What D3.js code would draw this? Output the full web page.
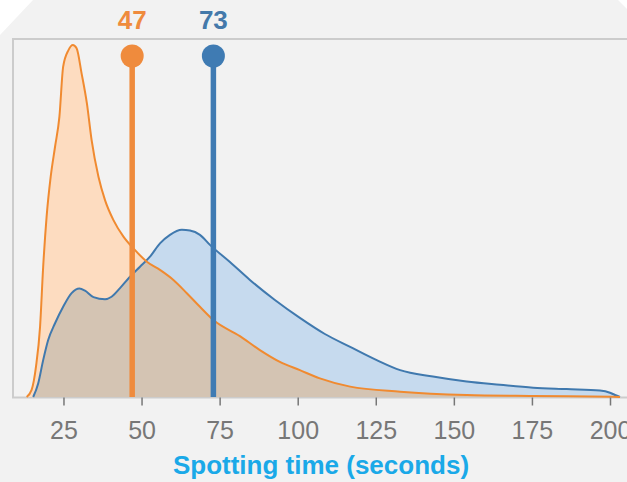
<!DOCTYPE html>
<html>
<head>
<meta charset="utf-8">
<script src="https://cdn.jsdelivr.net/npm/d3@7/dist/d3.min.js"></script>
<style>
  html, body { margin: 0; padding: 0; background: #ffffff; }
  svg { display: block; font-family: "Liberation Sans", Arial, sans-serif; }
</style>
</head>
<body>
<svg id="chart" width="627" height="482"></svg>
<script>
// ---- data ----
const xTicks = [25, 50, 75, 100, 125, 150, 175, 200];
const axisTitle = "Spotting time (seconds)";

const orangeTimes = [13.2, 14.8, 16.2, 17.5, 18.5, 19.6, 20.9, 22.3, 23.7, 24.9, 26.6, 28.0, 29.2, 30.8, 32.5, 34.0, 36.2, 38.3, 41.0, 44.2, 47.4, 51.7, 55.9, 60.2, 64.5, 68.7, 73.0, 81.5, 87.9, 94.3, 100.7, 107.1, 116.8, 132.8, 154.1, 175.4, 201.0, 203.2];
const orangeDensity = [0, 2.0, 8.5, 19.6, 36.4, 50.4, 61.5, 69.9, 78.3, 92.3, 96.9, 98.3, 97.4, 90.4, 82.0, 71.8, 61.5, 55.0, 49.4, 44.8, 41.5, 37.8, 35.5, 32.7, 29.0, 25.2, 21.5, 17.0, 13.1, 9.8, 7.5, 5.2, 2.9, 1.5, 0.56, 0.28, 0.08, 0];

const blueTimes = [15.3, 16.9, 18.5, 20.1, 22.3, 24.9, 27.6, 30.1, 31.9, 34.6, 38.3, 40.4, 43.1, 46.3, 49.5, 52.7, 55.9, 59.1, 62.9, 65.5, 68.7, 71.9, 78.3, 84.7, 92.7, 100.7, 108.7, 116.8, 125.3, 132.8, 143.3, 154.1, 164.8, 175.4, 186.1, 196.8, 200.0, 201.6, 203.2];
const blueDensity = [0, 3.8, 10.3, 15.9, 20.6, 25.2, 29.0, 30.3, 29.7, 27.9, 27.3, 28.0, 30.4, 33.6, 36.4, 39.2, 42.9, 45.3, 46.7, 46.5, 45.3, 42.5, 37.7, 32.7, 27.1, 22.1, 17.6, 14.0, 10.3, 7.5, 5.7, 4.3, 3.4, 2.6, 2.2, 1.8, 1.2, 0.56, 0];

const meanNames = ["orange", "blue"];
const meanValues = [47, 73];
const meanLabels = ["47", "73"];

// ---- styles ----
const C = {
  orangeStroke: "#f08a30", orangeFill: "#fddcc0",
  blueStroke: "#4079ae", blueFill: "#c6daee",
  overlap: "#d4c4b3",
  orangeMean: "#ef8b3d", blueMean: "#3f7bb3",
  orangeText: "#ef8b3d", blueText: "#4479aa"
};

const svg = d3.select("#chart");

// background panel with bevelled corners
svg.append("polygon")
  .attr("points", "0,35 33,0 618,0 650,32 650,482 0,482")
  .attr("fill", "#f2f2f2");

const plot = { left: 13, top: 39, right: 660, bottom: 397.5 };

const x = d3.scaleLinear().domain([0, 200]).range([-14.6, 610]);
const y = d3.scaleLinear().domain([0, 100]).range([397, 39]);

// plot frame
svg.append("rect")
  .attr("x", plot.left).attr("y", plot.top)
  .attr("width", plot.right - plot.left).attr("height", plot.bottom - plot.top)
  .attr("fill", "#f2f2f2").attr("stroke", "#cccccc").attr("stroke-width", 2);

const orange = orangeTimes.map((t, i) => ({ t, d: orangeDensity[i] }));
const blue = blueTimes.map((t, i) => ({ t, d: blueDensity[i] }));

const area = d3.area().x(p => x(p.t)).y0(y(0)).y1(p => y(p.d)).curve(d3.curveMonotoneX);
const line = d3.line().x(p => x(p.t)).y(p => y(p.d)).curve(d3.curveMonotoneX);

const defs = svg.append("defs");
defs.append("clipPath").attr("id", "blueClip")
  .append("path").attr("d", area(blue));

svg.append("path").attr("d", area(blue)).attr("fill", C.blueFill);
svg.append("path").attr("d", area(orange)).attr("fill", C.orangeFill);
svg.append("path").attr("d", area(orange)).attr("fill", C.overlap).attr("clip-path", "url(#blueClip)");

svg.append("path").attr("d", line(blue)).attr("fill", "none")
  .attr("stroke", C.blueStroke).attr("stroke-width", 2);
svg.append("path").attr("d", line(orange)).attr("fill", "none")
  .attr("stroke", C.orangeStroke).attr("stroke-width", 2);

// axis
const axis = d3.axisBottom(x).tickValues(xTicks).tickSize(8).tickPadding(16).tickFormat(d3.format("d"));
const gAxis = svg.append("g").attr("transform", `translate(0,${plot.bottom})`).call(axis);
gAxis.select(".domain").remove();
gAxis.selectAll(".tick line").attr("stroke", "#777").attr("stroke-width", 1.5);
gAxis.selectAll(".tick text").attr("fill", "#777").attr("font-size", 25)
  .attr("font-family", "Liberation Sans, Arial, sans-serif");

svg.append("text")
  .attr("x", 321).attr("y", 474)
  .attr("text-anchor", "middle")
  .attr("font-size", 26).attr("font-weight", "bold")
  .attr("fill", "#1aa9e8")
  .text(axisTitle);

// mean markers
const meanColor = [C.orangeMean, C.blueMean];
const meanText = [C.orangeText, C.blueText];
const gm = svg.append("g");
meanValues.forEach((v, i) => {
  gm.append("line")
    .attr("x1", x(v)).attr("x2", x(v))
    .attr("y1", 56).attr("y2", y(0))
    .attr("stroke", meanColor[i]).attr("stroke-width", 5.5);
  gm.append("circle")
    .attr("cx", x(v)).attr("cy", 56).attr("r", 11.5)
    .attr("fill", meanColor[i]);
  gm.append("text")
    .attr("x", x(v)).attr("y", 29)
    .attr("text-anchor", "middle")
    .attr("font-size", 26).attr("font-weight", "bold")
    .attr("fill", meanText[i])
    .text(meanLabels[i]);
});
</script>
</body>
</html>
